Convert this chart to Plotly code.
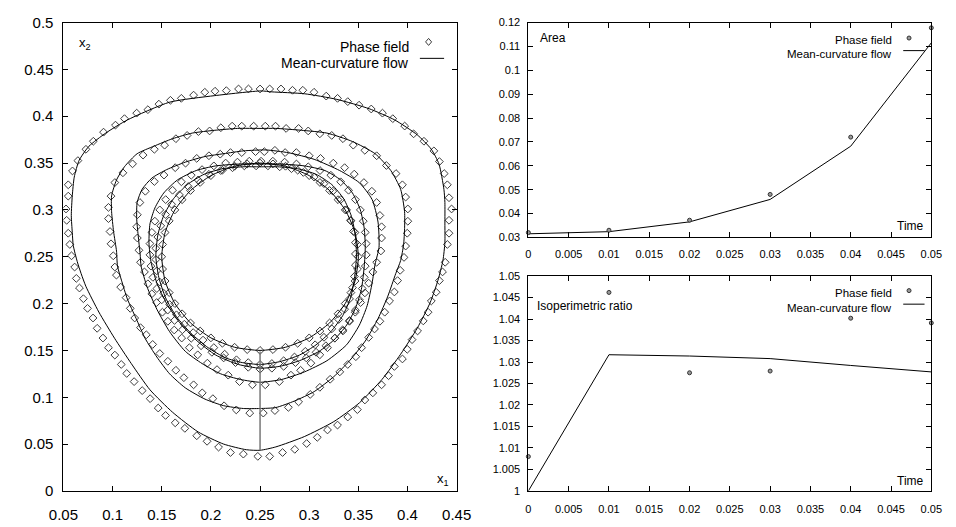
import plotly.graph_objects as go

# ---------------- Left panel: interfaces (x1, x2) ----------------
# Mean-curvature flow curves (t = 0 ... 0.05), innermost first
mcf0_x = [0.35, 0.3466, 0.3366, 0.3207, 0.30, 0.2759, 0.25, 0.2241, 0.20, 0.1793, 0.1634, 0.1534, 0.15,
          0.1534, 0.1634, 0.1793, 0.20, 0.2241, 0.25, 0.2759, 0.30, 0.3207, 0.3366, 0.3466, 0.35]
mcf0_y = [0.25, 0.2759, 0.30, 0.3207, 0.3366, 0.3466, 0.35, 0.3466, 0.3366, 0.3207, 0.30, 0.2759, 0.25,
          0.2241, 0.20, 0.1793, 0.1634, 0.1534, 0.15, 0.1534, 0.1634, 0.1793, 0.20, 0.2241, 0.25]

mcf1_x = [0.25, 0.27, 0.29, 0.307, 0.322, 0.334, 0.342, 0.346, 0.348, 0.347, 0.343, 0.335, 0.323, 0.307, 0.288,
          0.268, 0.25, 0.232, 0.212, 0.193, 0.176, 0.162, 0.152, 0.146, 0.144, 0.147, 0.154, 0.165, 0.18, 0.197,
          0.215, 0.232, 0.25]
mcf1_y = [0.135, 0.138, 0.145, 0.156, 0.17, 0.187, 0.206, 0.227, 0.25, 0.272, 0.293, 0.312, 0.327, 0.338, 0.344,
          0.346, 0.346, 0.346, 0.344, 0.338, 0.327, 0.312, 0.294, 0.273, 0.25, 0.228, 0.206, 0.186, 0.168, 0.153,
          0.142, 0.137, 0.135]

mcf2_x = [0.25, 0.27, 0.29, 0.31, 0.325, 0.338, 0.347, 0.353, 0.356, 0.357, 0.356, 0.352, 0.344, 0.332, 0.316,
          0.295, 0.27, 0.25, 0.23, 0.205, 0.185, 0.166, 0.152, 0.143, 0.138, 0.137, 0.139, 0.145, 0.155, 0.168,
          0.185, 0.205, 0.228, 0.25]
mcf2_y = [0.131, 0.133, 0.139, 0.149, 0.161, 0.177, 0.195, 0.215, 0.24, 0.26, 0.28, 0.30, 0.318, 0.332, 0.342,
          0.347, 0.349, 0.349, 0.349, 0.347, 0.342, 0.332, 0.318, 0.302, 0.285, 0.265, 0.245, 0.222, 0.20, 0.18,
          0.161, 0.145, 0.135, 0.131]

mcf3_x = [0.25, 0.272, 0.295, 0.318, 0.338, 0.351, 0.359, 0.364, 0.367, 0.371, 0.37, 0.364, 0.351, 0.331, 0.305,
          0.279, 0.256, 0.233, 0.213, 0.194, 0.174, 0.155, 0.14, 0.13, 0.125, 0.1245, 0.126, 0.128, 0.129, 0.135,
          0.145, 0.158, 0.174, 0.191, 0.21, 0.23, 0.25]
mcf3_y = [0.116, 0.119, 0.127, 0.139, 0.156, 0.177, 0.198, 0.222, 0.242, 0.26, 0.287, 0.311, 0.329, 0.342, 0.354,
          0.361, 0.364, 0.363, 0.36, 0.357, 0.351, 0.343, 0.334, 0.322, 0.308, 0.291, 0.273, 0.253, 0.24, 0.218,
          0.194, 0.17, 0.149, 0.136, 0.125, 0.119, 0.116]

mcf4_x = [0.25, 0.266, 0.285, 0.305, 0.325, 0.341, 0.357, 0.37, 0.38, 0.388, 0.393, 0.396, 0.397, 0.397, 0.393,
          0.383, 0.367, 0.344, 0.318, 0.292, 0.266, 0.251, 0.227, 0.204, 0.181, 0.161, 0.142, 0.125, 0.112, 0.104,
          0.099, 0.099, 0.101, 0.104, 0.105, 0.109, 0.115, 0.124, 0.133, 0.145, 0.158, 0.174, 0.194, 0.213, 0.233,
          0.25]
mcf4_y = [0.088, 0.089, 0.096, 0.106, 0.122, 0.139, 0.16, 0.184, 0.208, 0.232, 0.246, 0.263, 0.28, 0.298, 0.322,
          0.342, 0.36, 0.373, 0.382, 0.385, 0.387, 0.387, 0.387, 0.385, 0.382, 0.376, 0.368, 0.36, 0.346, 0.332,
          0.315, 0.298, 0.277, 0.256, 0.24, 0.225, 0.205, 0.184, 0.163, 0.143, 0.125, 0.11, 0.098, 0.091, 0.088,
          0.088]

mcf5_x = [0.25, 0.266, 0.295, 0.325, 0.351, 0.374, 0.393, 0.41, 0.423, 0.431, 0.436, 0.438, 0.438, 0.438, 0.437,
          0.432, 0.424, 0.41, 0.387, 0.361, 0.328, 0.295, 0.262, 0.251, 0.204, 0.158, 0.115, 0.093, 0.076, 0.066,
          0.061, 0.059, 0.058, 0.059, 0.06, 0.064, 0.068, 0.073, 0.086, 0.102, 0.119, 0.138, 0.161, 0.187, 0.213,
          0.236, 0.25]
mcf5_y = [0.0434, 0.047, 0.058, 0.074, 0.094, 0.119, 0.146, 0.174, 0.201, 0.225, 0.246, 0.265, 0.285, 0.308,
          0.322, 0.349, 0.365, 0.38, 0.396, 0.408, 0.418, 0.424, 0.426, 0.427, 0.422, 0.415, 0.396, 0.382, 0.368,
          0.353, 0.335, 0.315, 0.294, 0.276, 0.262, 0.245, 0.232, 0.218, 0.191, 0.163, 0.136, 0.108, 0.084, 0.063,
          0.05, 0.044, 0.0434]

# Phase-field interface points (diamonds)
pf0_x = [0.35, 0.3491, 0.3466, 0.3424, 0.3366, 0.3293, 0.3207, 0.3109, 0.30, 0.2883, 0.2759, 0.2631,
         0.25, 0.2369, 0.2241, 0.2117, 0.20, 0.1891, 0.1793, 0.1707, 0.1634, 0.1576, 0.1534, 0.1509,
         0.15, 0.1509, 0.1534, 0.1576, 0.1634, 0.1707, 0.1793, 0.1891, 0.20, 0.2117, 0.2241, 0.2369,
         0.25, 0.2631, 0.2759, 0.2883, 0.30, 0.3109, 0.3207, 0.3293, 0.3366, 0.3424, 0.3466, 0.3491]
pf0_y = [0.25, 0.2631, 0.2759, 0.2883, 0.30, 0.3109, 0.3207, 0.3293, 0.3366, 0.3424, 0.3466, 0.3491,
         0.35, 0.3491, 0.3466, 0.3424, 0.3366, 0.3293, 0.3207, 0.3109, 0.30, 0.2883, 0.2759, 0.2631,
         0.25, 0.2369, 0.2241, 0.2117, 0.20, 0.1891, 0.1793, 0.1707, 0.1634, 0.1576, 0.1534, 0.1509,
         0.15, 0.1509, 0.1534, 0.1576, 0.1634, 0.1707, 0.1793, 0.1891, 0.20, 0.2117, 0.2241, 0.2369]

pf1_x = [0.25, 0.262, 0.274, 0.285, 0.296, 0.306, 0.315, 0.323, 0.33, 0.336, 0.341, 0.344, 0.346, 0.347, 0.347,
         0.347, 0.345, 0.342, 0.338, 0.332, 0.324, 0.315, 0.305, 0.294, 0.282, 0.27, 0.258, 0.246, 0.234, 0.222,
         0.21, 0.198, 0.187, 0.177, 0.168, 0.16, 0.154, 0.149, 0.146, 0.144, 0.144, 0.145, 0.148, 0.152, 0.158,
         0.165, 0.173, 0.182, 0.192, 0.203, 0.214, 0.226, 0.238]
pf1_y = [0.135, 0.136, 0.139, 0.143, 0.149, 0.156, 0.164, 0.173, 0.183, 0.194, 0.205, 0.217, 0.229, 0.241, 0.253,
         0.265, 0.277, 0.289, 0.30, 0.311, 0.32, 0.328, 0.335, 0.34, 0.344, 0.346, 0.347, 0.347, 0.347, 0.345,
         0.342, 0.338, 0.332, 0.325, 0.316, 0.306, 0.295, 0.283, 0.271, 0.259, 0.247, 0.235, 0.223, 0.211, 0.199,
         0.188, 0.178, 0.169, 0.161, 0.153, 0.146, 0.14, 0.137]

pf2_x = [0.25, 0.262, 0.274, 0.286, 0.297, 0.307, 0.317, 0.326, 0.334, 0.341, 0.347, 0.351, 0.354, 0.356, 0.357,
         0.358, 0.358, 0.357, 0.355, 0.352, 0.347, 0.34, 0.332, 0.322, 0.311, 0.299, 0.287, 0.275, 0.263, 0.251,
         0.239, 0.227, 0.215, 0.203, 0.191, 0.18, 0.17, 0.161, 0.154, 0.148, 0.143, 0.14, 0.138, 0.138, 0.139,
         0.141, 0.145, 0.15, 0.156, 0.163, 0.171, 0.18, 0.19, 0.201, 0.213, 0.225, 0.238]
pf2_y = [0.13, 0.131, 0.133, 0.137, 0.142, 0.148, 0.155, 0.163, 0.172, 0.182, 0.193, 0.204, 0.216, 0.228, 0.24,
         0.252, 0.264, 0.276, 0.288, 0.30, 0.311, 0.321, 0.33, 0.337, 0.342, 0.346, 0.349, 0.351, 0.352, 0.352,
         0.352, 0.351, 0.35, 0.347, 0.343, 0.337, 0.33, 0.321, 0.311, 0.30, 0.288, 0.276, 0.264, 0.252, 0.24,
         0.228, 0.216, 0.204, 0.193, 0.182, 0.172, 0.163, 0.155, 0.148, 0.142, 0.137, 0.132]

pf3_x = [0.2454, 0.2314, 0.2199, 0.2095, 0.198, 0.1856, 0.1742, 0.1637, 0.1523, 0.1425, 0.1333, 0.1278, 0.1252,
         0.1245, 0.1252, 0.1268, 0.1284, 0.1324, 0.1359, 0.1399, 0.1448, 0.1507, 0.1562, 0.1627, 0.1703, 0.1781,
         0.1866, 0.1964, 0.2062, 0.2176, 0.2291, 0.2422, 0.2553, 0.2696, 0.2814, 0.2912, 0.3017, 0.3108, 0.3186,
         0.3262, 0.3343, 0.3409, 0.3468, 0.3523, 0.3566, 0.3605, 0.3647, 0.3686, 0.3729, 0.3736, 0.3736, 0.3719,
         0.3686, 0.3637, 0.3556, 0.3458, 0.336, 0.3245, 0.3115, 0.30, 0.2869, 0.2755, 0.2651, 0.2543]
pf3_y = [0.3622, 0.3612, 0.3612, 0.3595, 0.3578, 0.355, 0.3499, 0.3451, 0.3372, 0.3303, 0.3199, 0.3079, 0.2948,
         0.282, 0.27, 0.2569, 0.2441, 0.2338, 0.2211, 0.2104, 0.2011, 0.1908, 0.1811, 0.1718, 0.1632, 0.1529,
         0.1453, 0.1364, 0.1295, 0.1236, 0.1167, 0.1133, 0.1133, 0.1167, 0.1236, 0.1288, 0.1364, 0.1453, 0.1529,
         0.1632, 0.1708, 0.1811, 0.1908, 0.2011, 0.2114, 0.2218, 0.2338, 0.2441, 0.2562, 0.27, 0.282, 0.2941,
         0.3079, 0.3199, 0.3292, 0.3382, 0.3451, 0.3499, 0.355, 0.3578, 0.3612, 0.3612, 0.3636, 0.3622]

pf4_x = [0.2314, 0.2216, 0.2101, 0.1987, 0.1873, 0.1758, 0.1644, 0.1529, 0.1425, 0.131, 0.1203, 0.1105, 0.1023,
         0.0984, 0.0958, 0.0958, 0.0974, 0.0984, 0.1007, 0.1023, 0.1039, 0.1082, 0.1137, 0.118, 0.1225, 0.1284,
         0.1343, 0.1408, 0.148, 0.1562, 0.1644, 0.1725, 0.1824, 0.1912, 0.202, 0.2134, 0.2258, 0.2395, 0.2533,
         0.2651, 0.2788, 0.2892, 0.301, 0.3108, 0.3213, 0.3311, 0.3392, 0.3474, 0.3533, 0.3605, 0.3664, 0.3719,
         0.3768, 0.3817, 0.3866, 0.3899, 0.3925, 0.3964, 0.3981, 0.3997, 0.4003, 0.4003, 0.3981, 0.3948, 0.3883,
         0.3785, 0.3686, 0.3566, 0.3448, 0.3343, 0.3229, 0.3108, 0.299, 0.2892, 0.2765, 0.2657, 0.2553, 0.2435]
pf4_y = [0.3894, 0.3894, 0.3877, 0.3843, 0.3836, 0.3795, 0.376, 0.3691, 0.3647, 0.3585, 0.3492, 0.3396, 0.3292,
         0.3147, 0.3027, 0.2907, 0.2769, 0.2638, 0.251, 0.239, 0.2304, 0.2176, 0.2063, 0.1949, 0.1846, 0.1743,
         0.1667, 0.1564, 0.1467, 0.1384, 0.1288, 0.1209, 0.1133, 0.1047, 0.0985, 0.0909, 0.0865, 0.0831, 0.0831,
         0.0858, 0.0892, 0.0951, 0.103, 0.1106, 0.1192, 0.1271, 0.135, 0.1433, 0.1529, 0.1639, 0.1729, 0.1811,
         0.1908, 0.2028, 0.2124, 0.2245, 0.2355, 0.2493, 0.2614, 0.2751, 0.2879, 0.301, 0.3137, 0.3268, 0.3388,
         0.3474, 0.3578, 0.3636, 0.3691, 0.376, 0.3795, 0.3812, 0.3843, 0.387, 0.387, 0.3894, 0.3894, 0.3894]

pf5_x = [0.2477, 0.2598, 0.2729, 0.2853, 0.2974, 0.3082, 0.3186, 0.3288, 0.3392, 0.349, 0.3566, 0.3647, 0.3736,
         0.3807, 0.3866, 0.3948, 0.3997, 0.4046, 0.4102, 0.416, 0.4209, 0.4242, 0.4291, 0.4324, 0.4356, 0.4383,
         0.4405, 0.4422, 0.4422, 0.4448, 0.4422, 0.4405, 0.4373, 0.4324, 0.4268, 0.4167, 0.4062, 0.3971, 0.385,
         0.3745, 0.3631, 0.3507, 0.3392, 0.3288, 0.3173, 0.3049, 0.2935, 0.283, 0.2713, 0.2598, 0.25, 0.2382,
         0.2281, 0.2157, 0.2042, 0.1938, 0.1824, 0.1699, 0.1588, 0.1471, 0.1359, 0.1245, 0.1121, 0.1029, 0.0908,
         0.0804, 0.0729, 0.0647, 0.0592, 0.0549, 0.0549, 0.0526, 0.0533, 0.0549, 0.0565, 0.0582, 0.0614, 0.0631,
         0.0663, 0.0703, 0.0745, 0.0801, 0.0843, 0.0902, 0.0958, 0.1023, 0.1088, 0.1144, 0.1219, 0.1301, 0.1382,
         0.1464, 0.1539, 0.1637, 0.1735, 0.1856, 0.1961, 0.2078, 0.2199, 0.233]
pf5_y = [0.0369, 0.0369, 0.041, 0.0444, 0.0506, 0.0572, 0.0651, 0.0703, 0.0789, 0.0868, 0.0971, 0.1047, 0.1133,
         0.123, 0.1329, 0.1409, 0.1512, 0.1615, 0.1708, 0.1815, 0.1908, 0.2028, 0.2121, 0.2245, 0.2338, 0.2441,
         0.2631, 0.2751, 0.2889, 0.301, 0.313, 0.3268, 0.3388, 0.3516, 0.363, 0.3733, 0.3812, 0.3895, 0.3974,
         0.4033, 0.4077, 0.4118, 0.4156, 0.4191, 0.4215, 0.4256, 0.4277, 0.4277, 0.4291, 0.4291, 0.4291, 0.4291,
         0.4291, 0.4273, 0.4267, 0.4256, 0.4225, 0.4191, 0.417, 0.4129, 0.407, 0.4033, 0.3974, 0.3905, 0.383,
         0.3733, 0.3647, 0.3526, 0.3416, 0.3268, 0.3147, 0.301, 0.2889, 0.2751, 0.2631, 0.251, 0.239, 0.2269,
         0.2166, 0.2052, 0.1949, 0.1846, 0.1736, 0.1632, 0.1529, 0.145, 0.135, 0.1254, 0.1167, 0.1071, 0.0985,
         0.0885, 0.0806, 0.0727, 0.0668, 0.0589, 0.053, 0.0468, 0.041, 0.0393]

# Vertical segment at x1 = 0.25 joining the bottom points
seg_x = [0.25, 0.25]
seg_y = [0.0434, 0.1488]

# ---------------- Right panels ----------------
time = [0.0, 0.01, 0.02, 0.03, 0.04, 0.05]
area_pf = [0.032, 0.033, 0.0372, 0.048, 0.072, 0.1178]
area_mcf = [0.0315, 0.0324, 0.0365, 0.0459, 0.0682, 0.1115]
iso_pf = [1.008, 1.0462, 1.0275, 1.0279, 1.0402, 1.0391]
iso_mcf = [1.0, 1.0317, 1.0314, 1.0308, 1.0292, 1.0277]

x1_ticks = [0.05, 0.1, 0.15, 0.2, 0.25, 0.3, 0.35, 0.4, 0.45]
x1_labels = ["0.05", "0.1", "0.15", "0.2", "0.25", "0.3", "0.35", "0.4", "0.45"]
x2_ticks = [0, 0.05, 0.1, 0.15, 0.2, 0.25, 0.3, 0.35, 0.4, 0.45, 0.5]
x2_labels = ["0", "0.05", "0.1", "0.15", "0.2", "0.25", "0.3", "0.35", "0.4", "0.45", "0.5"]
t_ticks = [0, 0.005, 0.01, 0.015, 0.02, 0.025, 0.03, 0.035, 0.04, 0.045, 0.05]
t_labels = ["0", "0.005", "0.01", "0.015", "0.02", "0.025", "0.03", "0.035", "0.04", "0.045", "0.05"]
area_ticks = [0.03, 0.04, 0.05, 0.06, 0.07, 0.08, 0.09, 0.1, 0.11, 0.12]
area_labels = ["0.03", "0.04", "0.05", "0.06", "0.07", "0.08", "0.09", "0.1", "0.11", "0.12"]
iso_ticks = [1, 1.005, 1.01, 1.015, 1.02, 1.025, 1.03, 1.035, 1.04, 1.045, 1.05]
iso_labels = ["1", "1.005", "1.01", "1.015", "1.02", "1.025", "1.03", "1.035", "1.04", "1.045", "1.05"]

W, H = 956, 527
FONT = "Liberation Sans, Arial, sans-serif"
MK = "#3a3a3a"

fig = go.Figure()

mcf_curves = [(mcf0_x, mcf0_y), (mcf1_x, mcf1_y), (mcf2_x, mcf2_y),
              (mcf3_x, mcf3_y), (mcf4_x, mcf4_y), (mcf5_x, mcf5_y)]
pf_curves = [(pf0_x, pf0_y), (pf1_x, pf1_y), (pf2_x, pf2_y),
             (pf3_x, pf3_y), (pf4_x, pf4_y), (pf5_x, pf5_y)]

for (px, py) in pf_curves:
    fig.add_trace(go.Scatter(x=px, y=py, mode="markers", xaxis="x", yaxis="y", showlegend=False,
                             marker=dict(symbol="diamond-open", size=6, color=MK, line=dict(width=1, color=MK))))
for (cx, cy) in mcf_curves:
    fig.add_trace(go.Scatter(x=cx, y=cy, mode="lines", xaxis="x", yaxis="y", showlegend=False,
                             line=dict(color="black", width=1, shape="spline", smoothing=0.6)))
fig.add_trace(go.Scatter(x=seg_x, y=seg_y, mode="lines", xaxis="x", yaxis="y", showlegend=False,
                         line=dict(color="#777777", width=1.5)))

small_marker = dict(symbol="circle", size=4, color="#9a9a9a", line=dict(width=1, color="#333333"))
fig.add_trace(go.Scatter(x=time, y=area_mcf, mode="lines", xaxis="x2", yaxis="y2", showlegend=False,
                         line=dict(color="black", width=1)))
fig.add_trace(go.Scatter(x=time, y=area_pf, mode="markers", xaxis="x2", yaxis="y2", showlegend=False,
                         marker=small_marker, cliponaxis=False))
fig.add_trace(go.Scatter(x=time, y=iso_mcf, mode="lines", xaxis="x3", yaxis="y3", showlegend=False,
                         line=dict(color="black", width=1)))
fig.add_trace(go.Scatter(x=time, y=iso_pf, mode="markers", xaxis="x3", yaxis="y3", showlegend=False,
                         marker=small_marker, cliponaxis=False))


def px_x(p):
    return p / W


def px_y(p):
    return (H - p) / H


def axis(domain, rng, tv, tt, fs, anchor, standoff):
    return dict(domain=domain, range=rng, tickvals=tv, ticktext=tt, ticks="inside", ticklen=5,
                tickwidth=1, tickcolor="black", showline=True, linecolor="black", linewidth=1,
                mirror="ticks", showgrid=False, zeroline=False, anchor=anchor,
                ticklabelstandoff=standoff,
                tickfont=dict(family=FONT, size=fs, color="black"))


fig.update_layout(
    width=W, height=H, margin=dict(l=0, r=0, t=0, b=0),
    paper_bgcolor="white", plot_bgcolor="white", showlegend=False,
    xaxis=axis([px_x(50), px_x(456)], [0.05, 0.45], x1_ticks, x1_labels, 15, "y", 10),
    yaxis=axis([px_y(498), px_y(14)], [0, 0.5], x2_ticks, x2_labels, 15, "x", 6),
    xaxis2=axis([px_x(530), px_x(946)], [0, 0.05], t_ticks, t_labels, 11, "y2", 6),
    yaxis2=axis([px_y(236), px_y(14)], [0.03, 0.12], area_ticks, area_labels, 11, "x2", 5),
    xaxis3=axis([px_x(530), px_x(946)], [0, 0.05], t_ticks, t_labels, 11, "y3", 8),
    yaxis3=axis([px_y(498), px_y(276)], [1, 1.05], iso_ticks, iso_labels, 11, "x3", 5),
)

ann = []
shapes = []


def text(x, y, s, size, xanchor="left"):
    ann.append(dict(x=px_x(x), y=px_y(y), xref="paper", yref="paper", text=s, showarrow=False,
                    xanchor=xanchor, yanchor="middle", font=dict(family=FONT, size=size, color="black")))


# axis labels inside panels
text(64, 36, "x<sub>2</sub>", 13)
text(434, 486, "x<sub>1</sub>", 13)
text(540, 30, "Area", 12)
text(940, 224, "Time", 12, "right")
text(537, 307, "Isoperimetric ratio", 12)
text(940, 488, "Time", 12, "right")

# left legend
text(409, 39, "Phase field", 14, "right")
text(409, 56, "Mean-curvature flow", 14, "right")
shapes.append(dict(type="path", xref="paper", yref="paper", xsizemode="pixel", ysizemode="pixel",
                   xanchor=px_x(427), yanchor=px_y(34), path="M -3 0 L 0 3.5 L 3 0 L 0 -3.5 Z",
                   line=dict(color=MK, width=1)))
shapes.append(dict(type="line", xref="paper", yref="paper", x0=px_x(418), x1=px_x(443),
                   y0=px_y(51), y1=px_y(51), line=dict(color="black", width=1)))

# right legends
for (y1, y2, ly) in [(32, 47, 43), (293, 309, 305)]:
    text(907, y1, "Phase field", 11.5, "right")
    text(907, y2, "Mean-curvature flow", 11.5, "right")
    shapes.append(dict(type="circle", xref="paper", yref="paper", xsizemode="pixel", ysizemode="pixel",
                       xanchor=px_x(923), yanchor=px_y(y1 - 2), x0=-2, x1=2, y0=-2, y1=2,
                       fillcolor="#9a9a9a", line=dict(color="#333333", width=1)))
    shapes.append(dict(type="line", xref="paper", yref="paper", x0=px_x(917), x1=px_x(939),
                       y0=px_y(ly), y1=px_y(ly), line=dict(color="black", width=1)))

fig.update_layout(annotations=ann, shapes=shapes)
fig.write_html("out.html")
